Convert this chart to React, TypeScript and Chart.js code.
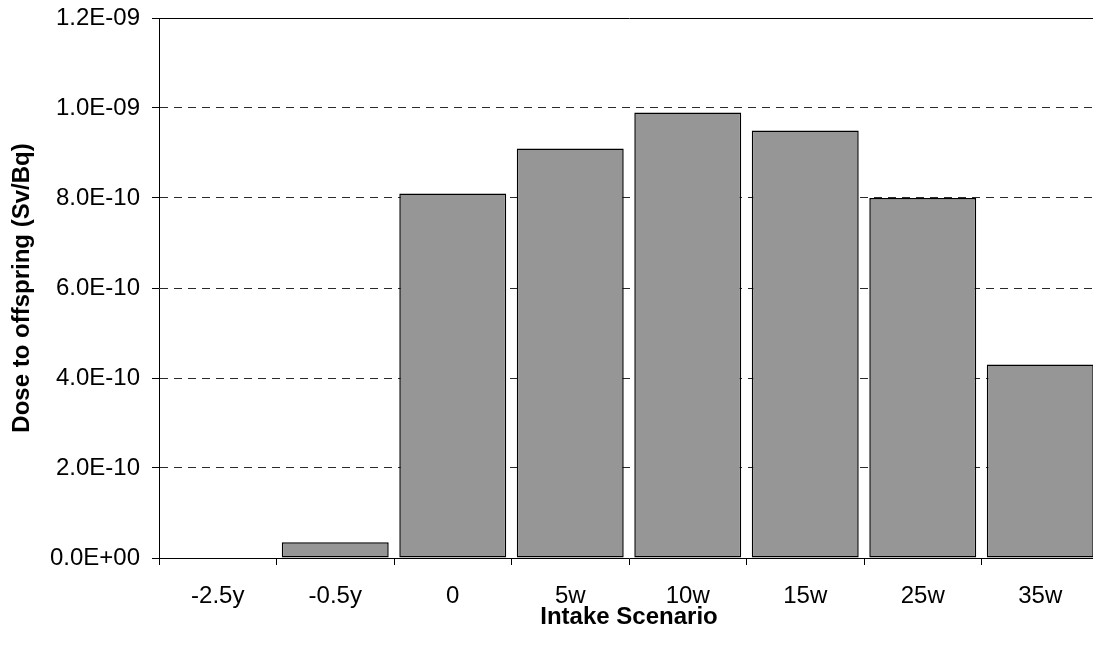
import React, { useEffect, useRef } from 'react';
import { Chart, registerables } from 'chart.js';

Chart.register(...registerables);

const categories = ['-2.5y', '-0.5y', '0', '5w', '10w', '15w', '25w', '35w'];
const doseValues = [0, 3.5e-11, 8.1e-10, 9.1e-10, 9.9e-10, 9.5e-10, 8.0e-10, 4.3e-10];
const yTickValues = [0, 2e-10, 4e-10, 6e-10, 8e-10, 1e-9, 1.2e-9];
const xTitle = 'Intake Scenario';
const yTitle = 'Dose to offspring (Sv/Bq)';

function sci(v: number): string {
  if (v === 0) return '0.0E+00';
  const s = v.toExponential(1);
  const [m, e] = s.split('e');
  const n = parseInt(e, 10);
  return m + 'E' + (n < 0 ? '-' : '+') + String(Math.abs(n)).padStart(2, '0');
}

export default function App() {
  const ref = useRef<HTMLCanvasElement>(null);

  useEffect(() => {
    document.body.style.margin = '0';
    const fontFamily = "'Liberation Sans', Arial, sans-serif";

    const topLine = {
      id: 'topLine',
      afterDraw(chart: any) {
        const { ctx, chartArea } = chart;
        const yScale = chart.scales.y;
        const y = Math.round(yScale.getPixelForValue(yTickValues[yTickValues.length - 1])) + 0.5;
        ctx.save();
        ctx.strokeStyle = '#000';
        ctx.lineWidth = 1;
        ctx.setLineDash([]);
        ctx.beginPath();
        ctx.moveTo(chartArea.left, y);
        ctx.lineTo(chartArea.right + 10, y);
        ctx.stroke();
        ctx.restore();
      },
    };

    const chart = new Chart(ref.current as HTMLCanvasElement, {
      type: 'bar',
      data: {
        labels: categories,
        datasets: [
          {
            data: doseValues,
            backgroundColor: '#969696',
            borderColor: '#000',
            borderWidth: 1.5,
            borderSkipped: false,
            barPercentage: 0.91,
            categoryPercentage: 1,
          },
        ],
      },
      options: {
        animation: false,
        responsive: false,
        devicePixelRatio: 1,
        layout: { padding: { top: 18, right: 0, left: 0, bottom: 0 } },
        plugins: {
          legend: { display: false },
          tooltip: { enabled: false },
          title: { display: false },
        },
        scales: {
          x: {
            afterFit(scale: any) {
              scale.height = 95;
              scale.paddingLeft = 0;
              scale.paddingRight = 0;
            },
            grid: {
              offset: true,
              drawOnChartArea: false,
              drawTicks: true,
              tickLength: 7,
              color: '#000',
              tickColor: '#000',
            },
            border: { display: true, color: '#000', width: 1 },
            ticks: {
              color: '#000',
              padding: 17,
              font: { family: fontFamily, size: 24 },
              maxRotation: 0,
              autoSkip: false,
            },
            title: {
              display: true,
              text: xTitle,
              color: '#000',
              font: { family: fontFamily, size: 24, weight: 'bold' },
              padding: { top: 0, bottom: 21 },
            },
          },
          y: {
            min: 0,
            max: yTickValues[yTickValues.length - 1],
            afterFit(scale: any) {
              scale.width = 159;
              scale.paddingTop = 0;
              scale.paddingBottom = 0;
            },
            afterBuildTicks(scale: any) {
              scale.ticks = yTickValues.map((v) => ({ value: v }));
            },
            grid: {
              drawOnChartArea: true,
              drawTicks: true,
              tickLength: 7,
              color: (ctx: any) =>
                ctx.index === 0 || ctx.index === yTickValues.length - 1 ? 'rgba(0,0,0,0)' : '#2a2a2a',
              tickColor: '#000',
              tickBorderDash: [],
            },
            border: { display: true, color: '#000', width: 1, dash: [8, 6] },
            ticks: {
              color: '#000',
              padding: 12,
              font: { family: fontFamily, size: 24 },
              callback: (v: any) => sci(Number(v)),
            },
            title: {
              display: true,
              text: yTitle,
              color: '#000',
              font: { family: fontFamily, size: 24, weight: 'bold' },
              padding: { top: 8, bottom: 0 },
            },
          },
        },
      },
      plugins: [topLine],
    });

    return () => chart.destroy();
  }, []);

  return (
    <div
      style={{
        position: 'fixed',
        left: 0,
        top: 0,
        width: 1093,
        height: 653,
        overflow: 'hidden',
        background: '#fff',
      }}
    >
      <canvas ref={ref} width={1099} height={653} style={{ display: 'block', width: 1099, height: 653 }} />
    </div>
  );
}
